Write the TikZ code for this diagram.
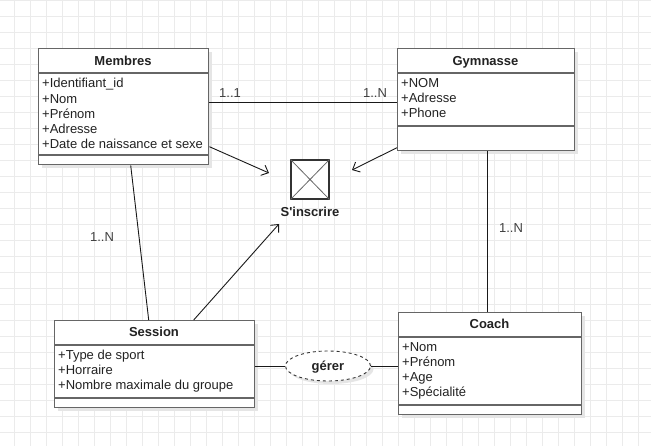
\documentclass[tikz,border=0pt]{standalone}
\usepackage{fontspec}
\setmainfont{Liberation Sans}
\usetikzlibrary{arrows.meta,calc,shapes.geometric}
\definecolor{boxline}{HTML}{666666}
\definecolor{txt}{HTML}{222222}
\tikzset{
  umlbox/.style={draw=boxline, line width=1.4pt, fill=white, rectangle, inner sep=0pt, anchor=north west},
  shadowbox/.style={fill=black!10, draw=none},
  sepline/.style={draw=boxline, line width=1.4pt},
  title/.style={font=\fontsize{13}{15}\selectfont\bfseries, text=txt, inner sep=0pt, anchor=base},
  attr/.style={font=\fontsize{13}{15}\selectfont, text=txt, anchor=base west, inner sep=0pt},
  mult/.style={font=\fontsize{13}{15}\selectfont, text=black!75, inner sep=0pt, anchor=base},
  conn/.style={draw=black!90, line width=0.9pt},
  arr/.style={conn, -{Straight Barb[length=6pt,width=11pt]}},
  gridline/.style={draw=black!8, line width=0.5pt}
}
\begin{document}
\begin{tikzpicture}[x=1pt,y=-1pt]
\useasboundingbox (0,0) rectangle (651,446);
\fill[white] (0,0) rectangle (651,446);
% grid
\foreach \gx in {14,30,...,651} {\draw[gridline] (\gx,0) -- (\gx,446);}
\foreach \gy in {0,16,...,446} {\draw[gridline] (0,\gy) -- (651,\gy);}

% shadows
\fill[shadowbox] (42,52) rectangle (212,168);
\fill[shadowbox] (401,52) rectangle (578,154);
\fill[shadowbox] (58,324) rectangle (258,411);
\fill[shadowbox] (402,316) rectangle (585,418);
\fill[shadowbox] (331,369) ellipse [x radius=42.5, y radius=15];

% Membres
\node[umlbox, minimum width=170pt, minimum height=116pt] (mem) at (38,48) {};
\draw[sepline] (38,73) -- (208,73);
\draw[sepline] (38,155) -- (208,155);
\node[title] (memt) at (123,65.5) {Membres};
\node[attr] (m1) at (42,88) {+Identifiant\_id};
\node[attr] (m2) at (42,103.5) {+Nom};
\node[attr] (m3) at (42,118.5) {+Prénom};
\node[attr] (m4) at (42,133.5) {+Adresse};
\node[attr] (m5) at (42,148.5) {+Date de naissance et sexe};

% Gymnasse
\node[umlbox, minimum width=177pt, minimum height=102pt] (gym) at (397,48) {};
\draw[sepline] (397,73) -- (574,73);
\draw[sepline] (397,126) -- (574,126);
\node[title] (gymt) at (485.5,65.5) {Gymnasse};
\node[attr] (g1) at (401,87.5) {+NOM};
\node[attr] (g2) at (401,102.5) {+Adresse};
\node[attr] (g3) at (401,117.5) {+Phone};

% Session
\node[umlbox, minimum width=200pt, minimum height=87pt] (ses) at (54,320) {};
\draw[sepline] (54,345) -- (254,345);
\draw[sepline] (54,398) -- (254,398);
\node[title] (sest) at (154,337) {Session};
\node[attr] (s1) at (58,359.5) {+Type de sport};
\node[attr] (s2) at (58,374.5) {+Horraire};
\node[attr] (s3) at (58,389.5) {+Nombre maximale du groupe};

% Coach
\node[umlbox, minimum width=183pt, minimum height=102pt] (coa) at (398,312) {};
\draw[sepline] (398,337) -- (581,337);
\draw[sepline] (398,405) -- (581,405);
\node[title] (coat) at (489.5,329) {Coach};
\node[attr] (c1) at (402,351.5) {+Nom};
\node[attr] (c2) at (402,366.5) {+Prénom};
\node[attr] (c3) at (402,381.5) {+Age};
\node[attr] (c4) at (402,396.5) {+Spécialité};

% S'inscrire
\node[draw=black!80, line width=1.2pt, fill=white, minimum width=38pt, minimum height=39pt, inner sep=0pt] (ins) at (310,179.5) {};
\draw[black!60, line width=0.8pt] (ins.north west) -- (ins.south east) (ins.north east) -- (ins.south west);
\node[title] (inst) at (310,216.5) {S\textquotesingle inscrire};

% gerer
\node[draw=black!80, dashed, line width=0.9pt, fill=white, ellipse, minimum width=85pt, minimum height=30pt, inner sep=0pt] (ger) at (328,366) {};
\node[title] (gert) at (328,370.5) {gérer};

% coordinates for arrow ends
\coordinate (a1) at (269,173);
\coordinate (a2) at (352,170);
\coordinate (a3) at (279,224);

% connectors
\draw[conn] ([yshift=-54pt]mem.north east) -- ([yshift=-54pt]gym.north west);
\draw[conn] ([xshift=7pt]mem.south) -- ([xshift=-6pt]ses.north);
\draw[conn] ([xshift=1.5pt]gym.south) -- ([xshift=-2.5pt]coa.north);
\draw[conn] (ses.east |- ger.west) -- (ger.west);
\draw[conn] (ger.east) -- (coa.west |- ger.east);
\draw[arr] ([yshift=-40pt]mem.east) -- (a1);
\draw[arr] ([yshift=-48pt]gym.west) -- (a2);
\draw[arr] ([xshift=39pt]ses.north) -- (a3);

% multiplicities
\node[mult] (l1) at (230,97.5) {1..1};
\node[mult] (l2) at (375,97.5) {1..N};
\node[mult] (l3) at (102,241.5) {1..N};
\node[mult] (l4) at (511,232.5) {1..N};
\end{tikzpicture}
\end{document}
